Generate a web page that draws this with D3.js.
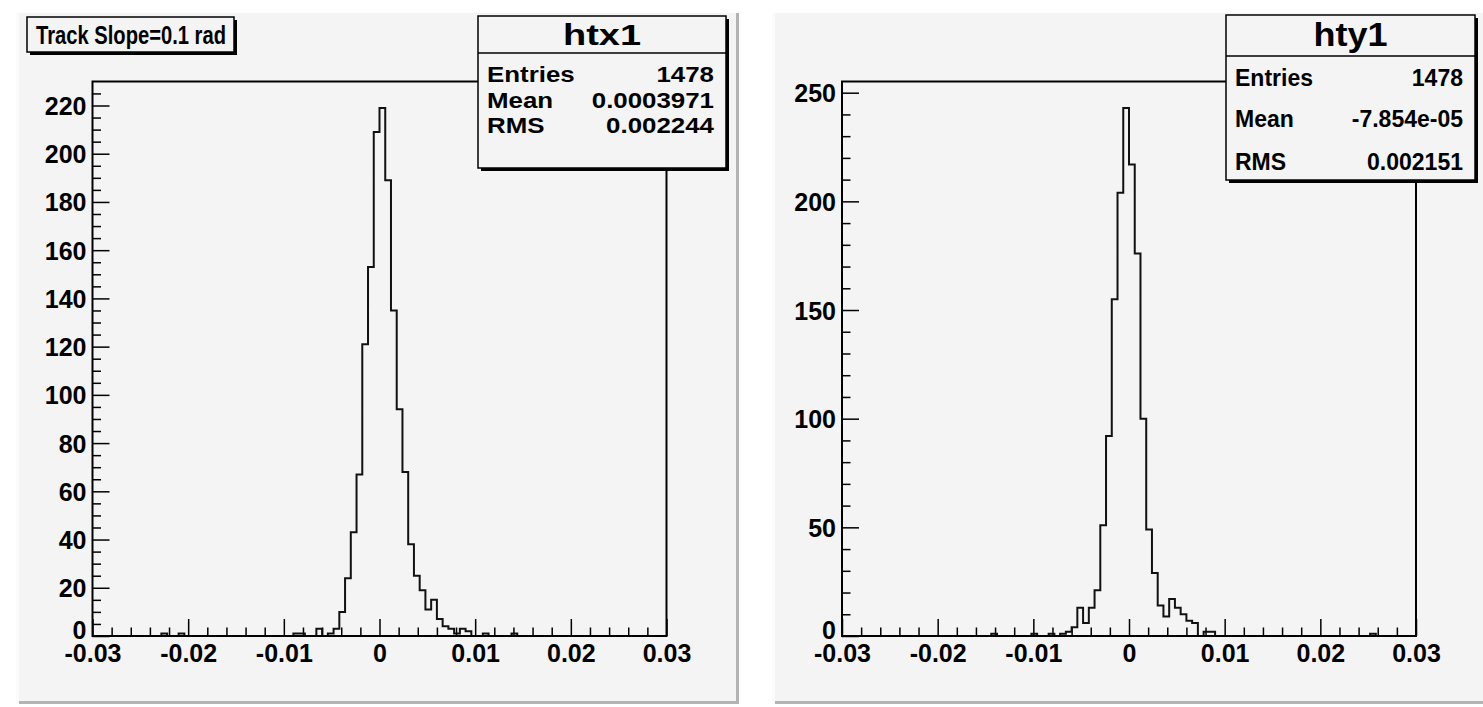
<!DOCTYPE html>
<html><head><meta charset="utf-8">
<script src="https://cdn.jsdelivr.net/npm/d3@7"></script>
<style>html,body{margin:0;padding:0;background:#fff;} svg{display:block;} text{font-family:"Liberation Sans",Arial,Helvetica,sans-serif;font-weight:bold;fill:#000;}</style>
</head><body>
<svg id="c" width="1483" height="707"></svg>
<script>
// ---------------- DATA ----------------
const xRange = [-0.03, 0.03];
const xTickValues = [-0.03, -0.02, -0.01, 0, 0.01, 0.02, 0.03];
const xTickLabels = ["-0.03", "-0.02", "-0.01", "0", "0.01", "0.02", "0.03"];

// htx1 bin contents (100 bins from -0.03 to 0.03)
const htxCounts = [
  0,0,0,0,0,0,0,0,0,0,
  0,0,1,0,0,1,0,0,0,0,
  0,0,0,0,0,0,0,0,0,0,
  0,0,0,0,0,1,1,0,0,3,
  0,1,3,10,24,43,67,121,153,209,
  219,189,135,94,68,38,25,19,11,15,
  7,4,3,1,3,2,0,0,1,0,
  0,0,0,1,0,0,0,0,0,0,
  0,0,0,0,0,0,0,0,0,0,
  0,0,0,0,0,0,0,0,0,0
];
// hty1 bin contents
const htyCounts = [
  0,0,0,0,0,0,0,0,0,0,
  0,0,0,0,0,0,0,0,0,0,
  0,0,0,0,0,0,1,0,0,0,
  0,0,0,1,0,0,1,0,1,2,
  4,13,6,13,21,51,92,155,204,243,
  217,176,100,49,29,14,9,17,13,10,
  7,6,0,2,2,0,0,0,0,0,
  0,0,0,0,0,0,0,0,0,0,
  0,0,0,0,0,0,0,0,0,0,
  0,0,1,0,0,0,0,0,0,0
];
const htxYTicks = [0,20,40,60,80,100,120,140,160,180,200,220];
const htyYTicks = [0,50,100,150,200,250];
const htxYMinorStep = 5;
const htyYMinorStep = 10;
const xMinorStep = 0.002;

const statLabels = ["Entries", "Mean", "RMS"];
const htxStats = ["1478", "0.0003971", "0.002244"];
const htyStats = ["1478", "-7.854e-05", "0.002151"];
const histNames = ["htx1", "hty1"];
const padTitle = "Track Slope=0.1 rad";

// ---------------- DRAW ----------------
const svg = d3.select("#c");
const padFill = "#f4f4f4";

function drawPad(x0, x1, y0, y1) {
  svg.append("rect").attr("x", x0).attr("y", y0).attr("width", x1 - x0).attr("height", y1 - y0).attr("fill", padFill);
  svg.append("rect").attr("x", x0).attr("y", y1 - 3).attr("width", x1 - x0).attr("height", 3).attr("fill", "#b4b4b4");
  svg.append("rect").attr("x", x1 - 3).attr("y", y0).attr("width", 3).attr("height", y1 - y0).attr("fill", "#b4b4b4");
  svg.append("rect").attr("x", x0).attr("y", y0).attr("width", 3).attr("height", y1 - y0).attr("fill", "#fbfbfb");
}
drawPad(16, 739, 13, 704);
drawPad(772, 1490, 13, 704);

function styleText(sel, size) {
  sel.attr("font-size", size).attr("font-family", '"Liberation Sans",Arial,sans-serif')
     .attr("font-weight", "bold").attr("fill", "#000");
}

function drawHist(cfg) {
  const x = d3.scaleLinear().domain(xRange).range([cfg.x0, cfg.x1]);
  const ymax = 1.05 * d3.max(cfg.counts);
  const y = d3.scaleLinear().domain([0, ymax]).range([cfg.y1, cfg.y0]);
  const g = svg.append("g");
  const bw = (xRange[1] - xRange[0]) / cfg.counts.length;

  const xMinor = d3.range(xRange[0], xRange[1] + 1e-9, xMinorStep).filter(v => !xTickValues.some(t => Math.abs(t - v) < 1e-9));
  g.append("g").attr("transform", `translate(0,${cfg.y1})`)
    .call(d3.axisBottom(x).tickValues(xMinor).tickSize(-8.5).tickFormat(""))
    .call(s => { s.select(".domain").remove(); s.selectAll("line").attr("stroke", "#000").attr("stroke-width", 1.5); });
  g.append("g").attr("transform", `translate(0,${cfg.y1})`)
    .call(d3.axisBottom(x).tickValues(xTickValues).tickSize(-17).tickPadding(8)
      .tickFormat((d, i) => xTickLabels[i]))
    .call(s => {
      s.select(".domain").remove();
      s.selectAll("line").attr("stroke", "#000").attr("stroke-width", 1.5);
      styleText(s.selectAll("text"), 25);
      s.selectAll("text").attr("dy", "0.71em").attr("y", 8);
    });
  const yMinor = d3.range(0, ymax, cfg.minorStep).filter(v => !cfg.yTicks.includes(v));
  g.append("g").attr("transform", `translate(${cfg.x0},0)`)
    .call(d3.axisLeft(y).tickValues(yMinor).tickSize(-8.5).tickFormat(""))
    .call(s => { s.select(".domain").remove(); s.selectAll("line").attr("stroke", "#000").attr("stroke-width", 1.5); });
  g.append("g").attr("transform", `translate(${cfg.x0},0)`)
    .call(d3.axisLeft(y).tickValues(cfg.yTicks).tickSize(-17).tickPadding(6).tickFormat(d3.format("d")))
    .call(s => {
      s.select(".domain").remove();
      s.selectAll("line").attr("stroke", "#000").attr("stroke-width", 1.5);
      styleText(s.selectAll("text"), 25);
      s.selectAll("text").attr("dy", d => d === 0 ? "0.1em" : "0.36em");
    });

  const pts = [[xRange[0], 0]];
  cfg.counts.forEach((c, i) => {
    const lo = xRange[0] + i * bw, hi = lo + bw;
    pts.push([lo, c]); pts.push([hi, c]);
  });
  pts.push([xRange[1], 0]);
  const line = d3.line().x(d => x(d[0])).y(d => y(d[1]));
  g.append("path").attr("d", line(pts)).attr("fill", "none").attr("stroke", "#111").attr("stroke-width", 2);

  g.append("rect").attr("x", cfg.x0).attr("y", cfg.y0).attr("width", cfg.x1 - cfg.x0).attr("height", cfg.y1 - cfg.y0)
    .attr("fill", "none").attr("stroke", "#000").attr("stroke-width", 2);

  // stats box
  const b = cfg.box;
  svg.append("rect").attr("x", b.x + 3).attr("y", b.y + 3).attr("width", b.w).attr("height", b.h).attr("fill", "#000");
  svg.append("rect").attr("x", b.x).attr("y", b.y).attr("width", b.w).attr("height", b.h).attr("fill", padFill)
    .attr("stroke", "#000").attr("stroke-width", 1.5);
  svg.append("line").attr("x1", b.x).attr("x2", b.x + b.w).attr("y1", b.sep).attr("y2", b.sep).attr("stroke", "#000").attr("stroke-width", 1.5);
  svg.append("text").attr("x", b.x + b.w / 2).attr("y", b.titleY).attr("text-anchor", "middle")
    .attr("font-size", b.titleSize).attr("textLength", b.titleLen).attr("lengthAdjust", "spacingAndGlyphs").text(cfg.name);
  statLabels.forEach((lab, i) => {
    svg.append("text").attr("transform", `translate(${b.x + 9},${b.rows[i]}) scale(${b.sx},1)`)
      .attr("font-size", b.rowSize).text(lab);
    svg.append("text").attr("transform", `translate(${b.x + b.w - 12},${b.rows[i]}) scale(${b.sx},1)`)
      .attr("text-anchor", "end").attr("font-size", b.rowSize).text(cfg.stats[i]);
  });
}

drawHist({
  counts: htxCounts, name: histNames[0], stats: htxStats, yTicks: htxYTicks, minorStep: htxYMinorStep,
  x0: 92.5, x1: 666.5, y0: 81.5, y1: 636,
  box: { x: 478, y: 16, w: 248, h: 152, sep: 53, titleY: 45, titleSize: 30, titleLen: 78,
         rows: [82, 108, 133], rowSize: 22.5, sx: 1.15 }
});
drawHist({
  counts: htyCounts, name: histNames[1], stats: htyStats, yTicks: htyYTicks, minorStep: htyYMinorStep,
  x0: 842, x1: 1416, y0: 81.5, y1: 636,
  box: { x: 1226, y: 15, w: 249, h: 165, sep: 56, titleY: 46, titleSize: 33, titleLen: 74,
         rows: [86, 127, 170], rowSize: 23, sx: 1.0 }
});

// pad title box
svg.append("rect").attr("x", 30).attr("y", 20).attr("width", 207).attr("height", 35).attr("fill", "#000");
svg.append("rect").attr("x", 27).attr("y", 17).attr("width", 207).attr("height", 35).attr("fill", padFill)
  .attr("stroke", "#000").attr("stroke-width", 1.5);
svg.append("text").attr("x", 36).attr("y", 44).attr("font-size", 26)
  .attr("textLength", 190).attr("lengthAdjust", "spacingAndGlyphs").text(padTitle);
</script>
</body></html>
